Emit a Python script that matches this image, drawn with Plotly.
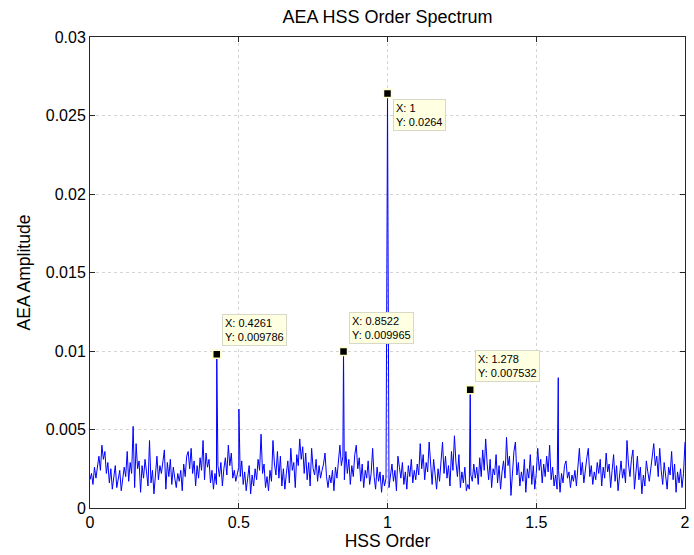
import numpy as np
import plotly.graph_objects as go

# Background spectrum (noise floor), sampled every 0.005 order from 0 to 2
noise_y = [
    0.0018, 0.0022, 0.0015, 0.0026, 0.0019, 0.0028, 0.0033, 0.0024, 0.0040, 0.0031,
    0.0036, 0.0022, 0.0029, 0.0016, 0.0025, 0.0012, 0.0021, 0.0027, 0.0013, 0.0020,
    0.0024, 0.0011, 0.0018, 0.0026, 0.0020, 0.0036, 0.0017, 0.0029, 0.0022, 0.0052,
    0.0013, 0.0041, 0.0025, 0.0030, 0.0010, 0.0027, 0.0019, 0.0031, 0.0023, 0.0014,
    0.0043, 0.0016, 0.0024, 0.0009, 0.0021, 0.0033, 0.0018, 0.0027, 0.0022, 0.0032,
    0.0037, 0.0012, 0.0029, 0.0020, 0.0031, 0.0015, 0.0026, 0.0019, 0.0013, 0.0022,
    0.0017, 0.0024, 0.0011, 0.0028, 0.0020, 0.0033, 0.0036, 0.0025, 0.0038, 0.0022,
    0.0030, 0.0014, 0.0027, 0.0019, 0.0032, 0.0024, 0.0043, 0.0018, 0.0035, 0.0026,
    0.0031, 0.0016, 0.0024, 0.0012, 0.0022, 0.0015, 0.0027, 0.0020, 0.0029, 0.0014,
    0.0025, 0.0032, 0.0021, 0.0040, 0.0027, 0.0035, 0.0019, 0.0024, 0.0017, 0.0022,
    0.0026, 0.0020, 0.0030, 0.0015, 0.0023, 0.0011, 0.0019, 0.0027, 0.0009, 0.0021,
    0.0014, 0.0025, 0.0018, 0.0031, 0.0024, 0.0047, 0.0022, 0.0028, 0.0013, 0.0020,
    0.0011, 0.0024, 0.0017, 0.0043, 0.0028, 0.0021, 0.0036, 0.0019, 0.0033, 0.0014,
    0.0025, 0.0012, 0.0022, 0.0030, 0.0016, 0.0038, 0.0024, 0.0029, 0.0013, 0.0034,
    0.0027, 0.0044, 0.0031, 0.0039, 0.0022, 0.0035, 0.0018, 0.0029, 0.0014, 0.0038,
    0.0025, 0.0021, 0.0031, 0.0017, 0.0027, 0.0019, 0.0024, 0.0028, 0.0035, 0.0020,
    0.0013, 0.0021, 0.0016, 0.0024, 0.0011, 0.0026, 0.0019, 0.0030, 0.0040, 0.0027,
    0.0033, 0.0018, 0.0036, 0.0022, 0.0031, 0.0015, 0.0027, 0.0020, 0.0034, 0.0040,
    0.0025, 0.0032, 0.0017, 0.0028, 0.0013, 0.0024, 0.0019, 0.0030, 0.0015, 0.0022,
    0.0038, 0.0020, 0.0012, 0.0026, 0.0017, 0.0023, 0.0010, 0.0021, 0.0014, 0.0019,
    0.0020, 0.0013, 0.0022, 0.0028, 0.0017, 0.0024, 0.0011, 0.0033, 0.0026, 0.0019,
    0.0029, 0.0015, 0.0023, 0.0012, 0.0027, 0.0020, 0.0031, 0.0016, 0.0024, 0.0018,
    0.0028, 0.0021, 0.0041, 0.0025, 0.0034, 0.0018, 0.0029, 0.0023, 0.0042, 0.0026,
    0.0015, 0.0031, 0.0020, 0.0012, 0.0025, 0.0017, 0.0030, 0.0042, 0.0022, 0.0033,
    0.0019, 0.0027, 0.0014, 0.0036, 0.0024, 0.0046, 0.0029, 0.0020, 0.0034, 0.0013,
    0.0023, 0.0016, 0.0026, 0.0011, 0.0015, 0.0012, 0.0021, 0.0017, 0.0028, 0.0019,
    0.0026, 0.0015, 0.0032, 0.0020, 0.0037, 0.0024, 0.0044, 0.0028, 0.0018, 0.0031,
    0.0013, 0.0025, 0.0021, 0.0034, 0.0016, 0.0027, 0.0012, 0.0023, 0.0030, 0.0019,
    0.0045, 0.0027, 0.0033, 0.0008, 0.0024, 0.0036, 0.0042, 0.0021, 0.0029, 0.0014,
    0.0023, 0.0017, 0.0031, 0.0010, 0.0025, 0.0019, 0.0034, 0.0015, 0.0027, 0.0012,
    0.0022, 0.0038, 0.0024, 0.0031, 0.0016, 0.0028, 0.0020, 0.0033, 0.0023, 0.0040,
    0.0018, 0.0026, 0.0014, 0.0021, 0.0012, 0.0024, 0.0010, 0.0022, 0.0016, 0.0027,
    0.0030, 0.0019, 0.0023, 0.0013, 0.0021, 0.0017, 0.0024, 0.0014, 0.0026, 0.0038,
    0.0021, 0.0029, 0.0016, 0.0025, 0.0032, 0.0038, 0.0020, 0.0027, 0.0015, 0.0023,
    0.0018, 0.0029, 0.0022, 0.0031, 0.0014, 0.0026, 0.0019, 0.0035, 0.0023, 0.0028,
    0.0013, 0.0024, 0.0034, 0.0017, 0.0027, 0.0011, 0.0022, 0.0030, 0.0019, 0.0025,
    0.0016, 0.0043, 0.0028, 0.0020, 0.0031, 0.0037, 0.0012, 0.0024, 0.0033, 0.0018,
    0.0026, 0.0009, 0.0021, 0.0014, 0.0030, 0.0023, 0.0017, 0.0025, 0.0035, 0.0041,
    0.0027, 0.0033, 0.0020, 0.0038, 0.0024, 0.0015, 0.0029, 0.0019, 0.0012, 0.0026,
    0.0021, 0.0036, 0.0018, 0.0028, 0.0010, 0.0023, 0.0016, 0.0025, 0.0013, 0.0022,
    0.0042,
]
x_start, x_end = 0.0, 2.0

# Discrete order peaks
peak_x = [0.4261, 0.5005, 0.8522, 0.9990, 1.0000, 1.2780, 1.5740]
peak_y = [0.009786, 0.0063, 0.009965, 0.0205, 0.0264, 0.007532, 0.0083]

# Data tips shown on the chart
tip_x = [0.4261, 0.8522, 1.0, 1.278]
tip_y = [0.009786, 0.009965, 0.0264, 0.007532]
tip_text = ["X: 0.4261<br>Y: 0.009786", "X: 0.8522<br>Y: 0.009965",
            "X: 1<br>Y: 0.0264", "X: 1.278<br>Y: 0.007532"]
tip_below = [False, False, True, False]

# Axis ticks
x_ticks = [0, 0.5, 1, 1.5, 2]
x_tick_labels = ["0", "0.5", "1", "1.5", "2"]
y_ticks = [0, 0.005, 0.01, 0.015, 0.02, 0.025, 0.03]
y_tick_labels = ["0", "0.005", "0.01", "0.015", "0.02", "0.025", "0.03"]

grid_x = np.round(np.linspace(x_start, x_end, len(noise_y)), 4)
pts = dict(zip(grid_x.tolist(), noise_y))
for px, py in zip(peak_x, peak_y):
    pts[round(px, 4)] = py
xs = sorted(pts)
ys = [pts[k] for k in xs]

FONT = "Liberation Sans, Arial, Helvetica, sans-serif"

fig = go.Figure()
fig.add_trace(go.Scatter(x=xs, y=ys, mode="lines",
                         line=dict(color="#0000ff", width=1), showlegend=False,
                         hoverinfo="skip", cliponaxis=True))
fig.add_trace(go.Scatter(x=tip_x, y=tip_y, mode="markers",
                         marker=dict(symbol="square", size=8, color="black",
                                     line=dict(color="#ffffc8", width=1.5)),
                         showlegend=False, hoverinfo="skip"))

for tx, ty, tt, below in zip(tip_x, tip_y, tip_text, tip_below):
    fig.add_annotation(x=tx, y=ty, xref="x", yref="y", text=tt, showarrow=False,
                       xanchor="left", yanchor="top" if below else "bottom",
                       xshift=5, yshift=-5 if below else 8, align="left",
                       bgcolor="#ffffe1", bordercolor="#d8d8c8", borderwidth=1,
                       borderpad=2, font=dict(family=FONT, size=11, color="black"))

axis_common = dict(showline=True, linecolor="#262626", linewidth=1, mirror="ticks",
                   ticks="inside", ticklen=5, tickcolor="#262626", automargin=False,
                   showgrid=True, gridcolor="#d4d4d4", griddash="dot", gridwidth=1,
                   zeroline=False, tickfont=dict(family=FONT, size=16, color="black"))

fig.update_xaxes(range=[x_start, x_end], tickvals=x_ticks, ticktext=x_tick_labels,
                 title=dict(text="HSS Order", font=dict(family=FONT, size=17.5, color="black"),
                            standoff=4), **axis_common)
fig.update_yaxes(range=[0, 0.03], tickvals=y_ticks, ticktext=y_tick_labels,
                 title=dict(text="AEA Amplitude", font=dict(family=FONT, size=17.5, color="black"),
                            standoff=10), **axis_common)

fig.update_layout(
    width=694, height=555,
    margin=dict(l=90, r=9, t=37, b=47, autoexpand=False),
    paper_bgcolor="white", plot_bgcolor="white",
    title=dict(text="AEA HSS Order Spectrum", x=(90 + 297.5) / 694, xanchor="center",
               y=1 - 17 / 555, yanchor="middle",
               font=dict(family=FONT, size=18, color="black")),
)

fig.write_html("out.html")
